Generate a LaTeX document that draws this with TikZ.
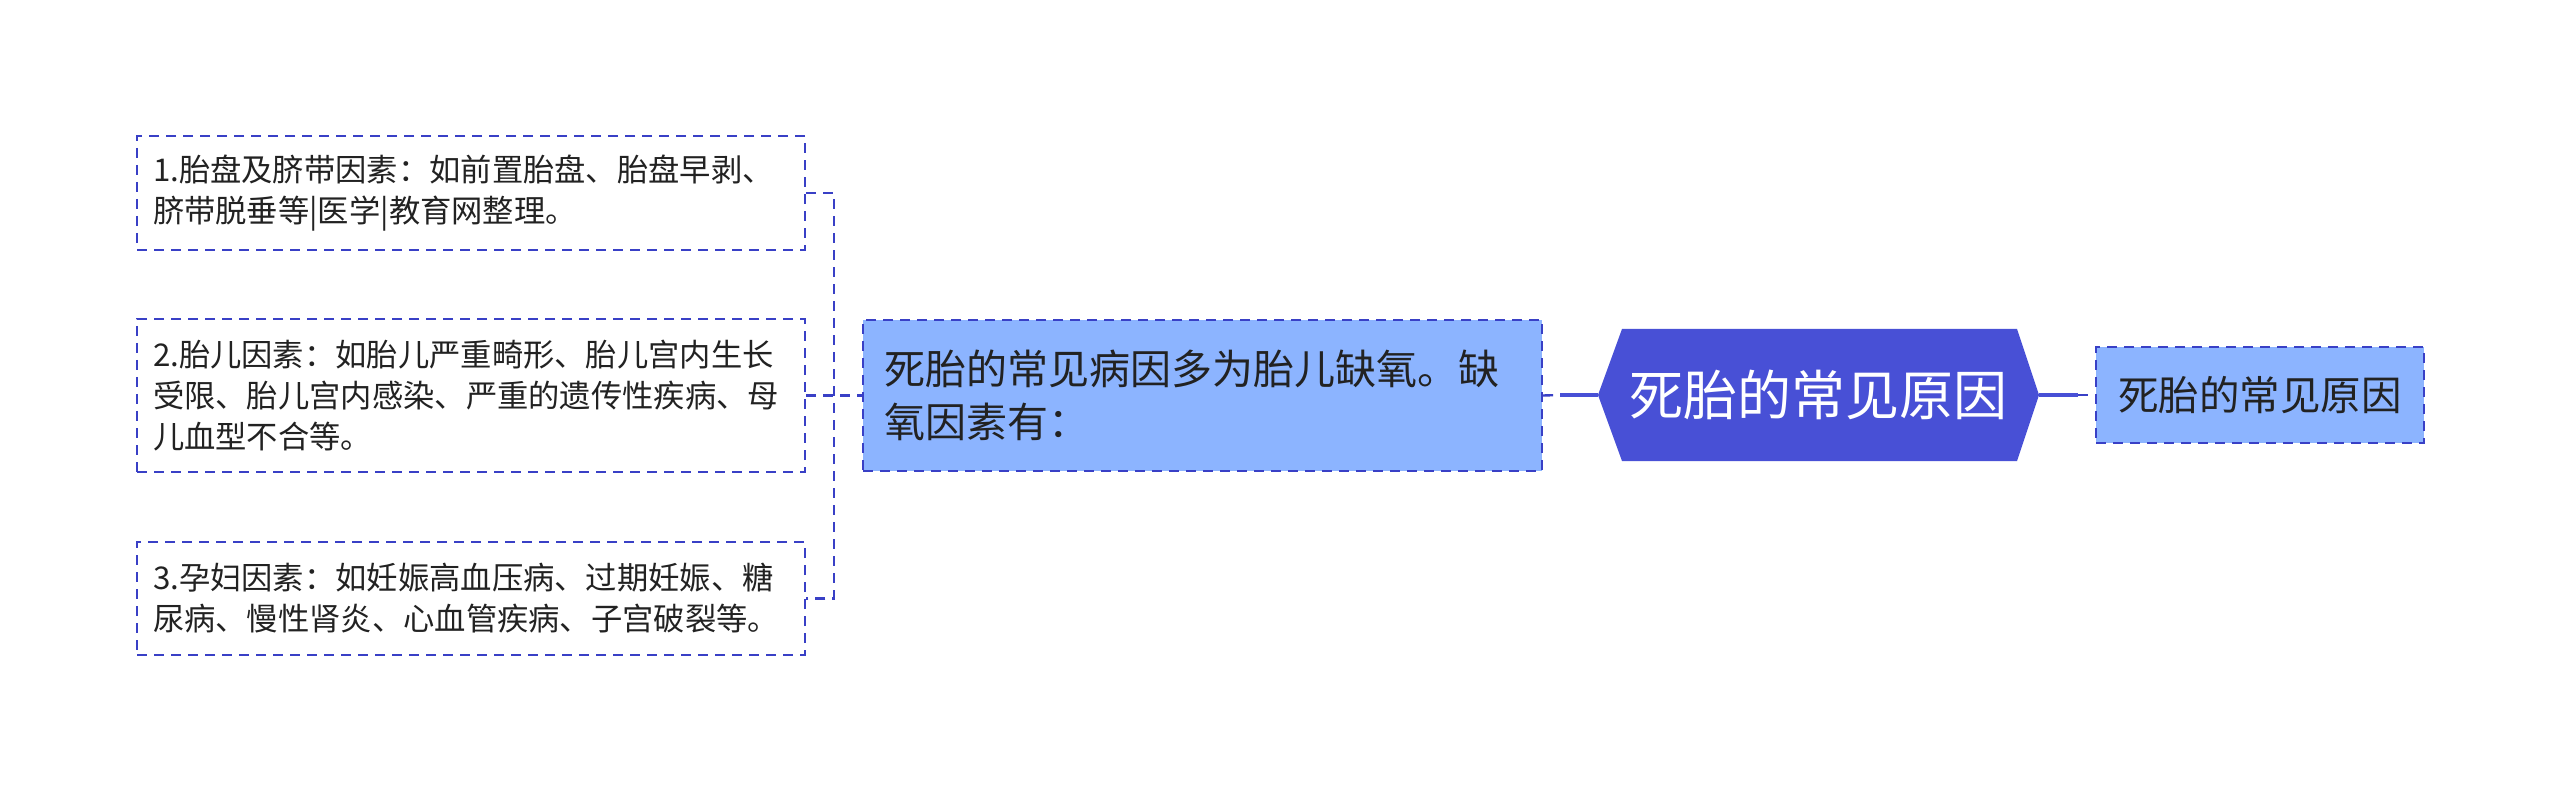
\documentclass[tikz,border=0pt]{standalone}
\usepackage{fontspec}
\setmainfont{Noto Sans CJK SC}
\definecolor{bordc}{HTML}{3940C6}
\definecolor{hexc}{HTML}{4850D6}
\definecolor{midc}{HTML}{8CB4FF}
\definecolor{txt}{HTML}{222222}
\begin{document}
\begin{tikzpicture}[x=1pt,y=-1pt,
  leaf/.style={draw=bordc, line width=2.4pt, dash pattern=on 10pt off 7pt,
    inner xsep=16pt, inner ysep=0pt, text width=636pt, align=left,
    minimum width=668pt, font=\fontsize{31.3}{41}\selectfont, text=txt, anchor=center},
  midbox/.style={draw=bordc, fill=midc, line width=2.4pt, dash pattern=on 10pt off 7pt,
    inner xsep=21pt, inner ysep=0pt, text width=637pt, align=left,
    minimum width=679pt, minimum height=151pt, font=\fontsize{41}{53}\selectfont, text=txt},
  rightbox/.style={draw=bordc, fill=midc, line width=2.4pt, dash pattern=on 10pt off 7pt,
    inner sep=0pt, minimum width=328pt, minimum height=96pt,
    font=\fontsize{40.5}{50}\selectfont, text=txt},
  hexnode/.style={inner sep=0pt, minimum width=441pt, minimum height=132pt,
    font=\fontsize{54}{64}\selectfont, text=white,
    path picture={\fill[hexc] (path picture bounding box.west)
      -- ([xshift=24pt]path picture bounding box.north west)
      -- ([xshift=-22pt]path picture bounding box.north east)
      -- (path picture bounding box.east)
      -- ([xshift=-22pt]path picture bounding box.south east)
      -- ([xshift=24pt]path picture bounding box.south west) -- cycle;}},
  conn/.style={draw=bordc, line width=2.4pt, dash pattern=on 10pt off 7pt},
  thickconn/.style={draw=hexc, line width=3.5pt}]
\useasboundingbox (0,0) rectangle (2560,791);
\fill[white] (0,0) rectangle (2560,791);

\node[leaf, minimum height=114pt] (b1) at (471,193) {1.胎盘及脐带因素：如前置胎盘、胎盘早剥、\\脐带脱垂等|医学|教育网整理。};
\node[leaf, minimum height=153pt] (b2) at (471,395.5) {2.胎儿因素：如胎儿严重畸形、胎儿宫内生长\\受限、胎儿宫内感染、严重的遗传性疾病、母\\儿血型不合等。};
\node[leaf, minimum height=113pt] (b3) at (471,598.5) {3.孕妇因素：如妊娠高血压病、过期妊娠、糖\\尿病、慢性肾炎、心血管疾病、子宫破裂等。};

\node[midbox] (mid) at (1202.5,395.5) {死胎的常见病因多为胎儿缺氧。缺\\氧因素有：};
\node[hexnode] (hex) at (1818.5,395) {死胎的常见原因};
\node[rightbox] (r) at (2260,395) {死胎的常见原因};

\coordinate (k1) at (834,193);
\coordinate (k3) at (834,598.5);
\draw[conn] (b1.east) -- (k1) -- (k3) -- (b3.east);
\draw[conn] (b2.east) -- (mid.west);
\coordinate (c1) at (1560,395);
\draw[conn] (mid.east) -- (c1);
\draw[thickconn] (c1) -- (hex.west);
\coordinate (c2) at (2078,395);
\draw[thickconn] (hex.east) -- (c2);
\draw[conn] (c2) -- (r.west);
\end{tikzpicture}
\end{document}
